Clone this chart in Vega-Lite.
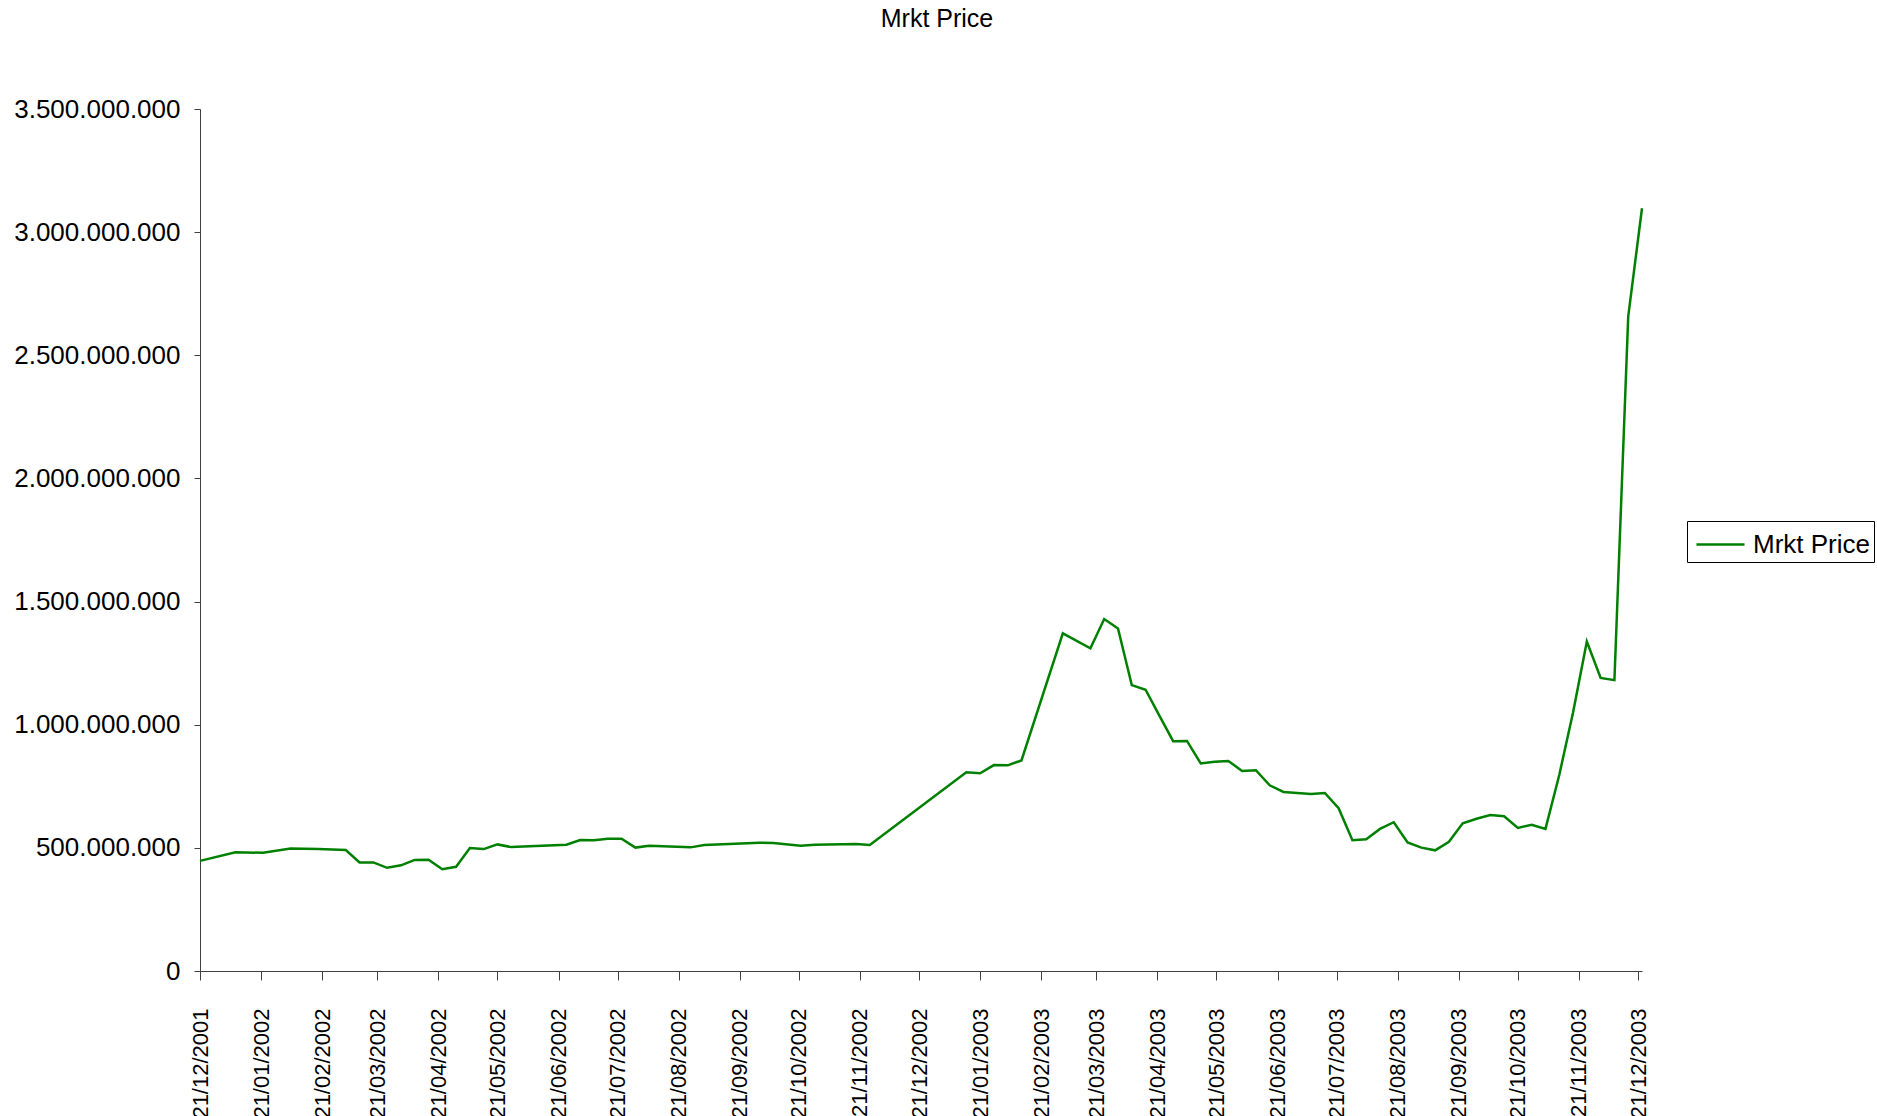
{
  "$schema": "https://vega.github.io/schema/vega-lite/v6.json",
  "width": 1442,
  "height": 862,
  "autosize": {"type": "none"},
  "padding": {"left": 200, "top": 109, "right": 235, "bottom": 145},
  "background": "white",
  "title": {"text": "Mrkt Price", "font": "Liberation Sans", "fontSize": 25, "fontWeight": "normal", "color": "black", "anchor": "middle", "frame": "group", "dx": 16, "offset": 64},
  "config": {
    "locale": {"number": {"decimal": ",", "thousands": ".", "grouping": [3], "currency": ["", " €"]}},
    "view": {"stroke": null},
    "axis": {"labelFont": "Liberation Sans", "labelFontSize": 26, "labelColor": "black", "domainColor": "#404040", "tickColor": "#404040", "grid": false, "title": null},
    "legend": {"labelFont": "Liberation Sans", "labelFontSize": 26, "labelColor": "black"}
  },
  "data": {"values": [
    {"date": "2001/12/21", "price": 447000000, "series": "Mrkt Price"},
    {"date": "2002/01/08", "price": 482000000, "series": "Mrkt Price"},
    {"date": "2002/01/22", "price": 480000000, "series": "Mrkt Price"},
    {"date": "2002/02/05", "price": 497000000, "series": "Mrkt Price"},
    {"date": "2002/02/19", "price": 495000000, "series": "Mrkt Price"},
    {"date": "2002/03/05", "price": 491000000, "series": "Mrkt Price"},
    {"date": "2002/03/12", "price": 441000000, "series": "Mrkt Price"},
    {"date": "2002/03/19", "price": 441000000, "series": "Mrkt Price"},
    {"date": "2002/03/26", "price": 419000000, "series": "Mrkt Price"},
    {"date": "2002/04/02", "price": 429000000, "series": "Mrkt Price"},
    {"date": "2002/04/09", "price": 451000000, "series": "Mrkt Price"},
    {"date": "2002/04/16", "price": 452000000, "series": "Mrkt Price"},
    {"date": "2002/04/23", "price": 413000000, "series": "Mrkt Price"},
    {"date": "2002/04/30", "price": 423000000, "series": "Mrkt Price"},
    {"date": "2002/05/07", "price": 499000000, "series": "Mrkt Price"},
    {"date": "2002/05/14", "price": 495000000, "series": "Mrkt Price"},
    {"date": "2002/05/21", "price": 514000000, "series": "Mrkt Price"},
    {"date": "2002/05/28", "price": 503000000, "series": "Mrkt Price"},
    {"date": "2002/06/25", "price": 513000000, "series": "Mrkt Price"},
    {"date": "2002/07/02", "price": 532000000, "series": "Mrkt Price"},
    {"date": "2002/07/09", "price": 531000000, "series": "Mrkt Price"},
    {"date": "2002/07/16", "price": 537000000, "series": "Mrkt Price"},
    {"date": "2002/07/23", "price": 537000000, "series": "Mrkt Price"},
    {"date": "2002/07/30", "price": 501000000, "series": "Mrkt Price"},
    {"date": "2002/08/06", "price": 509000000, "series": "Mrkt Price"},
    {"date": "2002/08/27", "price": 502000000, "series": "Mrkt Price"},
    {"date": "2002/09/03", "price": 512000000, "series": "Mrkt Price"},
    {"date": "2002/10/01", "price": 521000000, "series": "Mrkt Price"},
    {"date": "2002/10/08", "price": 520000000, "series": "Mrkt Price"},
    {"date": "2002/10/22", "price": 509000000, "series": "Mrkt Price"},
    {"date": "2002/10/29", "price": 513000000, "series": "Mrkt Price"},
    {"date": "2002/11/19", "price": 516000000, "series": "Mrkt Price"},
    {"date": "2002/11/26", "price": 512000000, "series": "Mrkt Price"},
    {"date": "2003/01/14", "price": 807000000, "series": "Mrkt Price"},
    {"date": "2003/01/21", "price": 803000000, "series": "Mrkt Price"},
    {"date": "2003/01/28", "price": 836000000, "series": "Mrkt Price"},
    {"date": "2003/02/04", "price": 835000000, "series": "Mrkt Price"},
    {"date": "2003/02/11", "price": 855000000, "series": "Mrkt Price"},
    {"date": "2003/03/04", "price": 1371000000, "series": "Mrkt Price"},
    {"date": "2003/03/18", "price": 1310000000, "series": "Mrkt Price"},
    {"date": "2003/03/25", "price": 1429000000, "series": "Mrkt Price"},
    {"date": "2003/04/01", "price": 1391000000, "series": "Mrkt Price"},
    {"date": "2003/04/08", "price": 1161000000, "series": "Mrkt Price"},
    {"date": "2003/04/15", "price": 1142000000, "series": "Mrkt Price"},
    {"date": "2003/04/22", "price": 1037000000, "series": "Mrkt Price"},
    {"date": "2003/04/29", "price": 933000000, "series": "Mrkt Price"},
    {"date": "2003/05/06", "price": 934000000, "series": "Mrkt Price"},
    {"date": "2003/05/13", "price": 843000000, "series": "Mrkt Price"},
    {"date": "2003/05/20", "price": 850000000, "series": "Mrkt Price"},
    {"date": "2003/05/27", "price": 853000000, "series": "Mrkt Price"},
    {"date": "2003/06/03", "price": 812000000, "series": "Mrkt Price"},
    {"date": "2003/06/10", "price": 815000000, "series": "Mrkt Price"},
    {"date": "2003/06/17", "price": 754000000, "series": "Mrkt Price"},
    {"date": "2003/06/24", "price": 727000000, "series": "Mrkt Price"},
    {"date": "2003/07/08", "price": 719000000, "series": "Mrkt Price"},
    {"date": "2003/07/15", "price": 723000000, "series": "Mrkt Price"},
    {"date": "2003/07/22", "price": 661000000, "series": "Mrkt Price"},
    {"date": "2003/07/29", "price": 531000000, "series": "Mrkt Price"},
    {"date": "2003/08/05", "price": 535000000, "series": "Mrkt Price"},
    {"date": "2003/08/12", "price": 577000000, "series": "Mrkt Price"},
    {"date": "2003/08/19", "price": 604000000, "series": "Mrkt Price"},
    {"date": "2003/08/26", "price": 522000000, "series": "Mrkt Price"},
    {"date": "2003/09/02", "price": 501000000, "series": "Mrkt Price"},
    {"date": "2003/09/09", "price": 490000000, "series": "Mrkt Price"},
    {"date": "2003/09/16", "price": 525000000, "series": "Mrkt Price"},
    {"date": "2003/09/23", "price": 600000000, "series": "Mrkt Price"},
    {"date": "2003/09/30", "price": 618000000, "series": "Mrkt Price"},
    {"date": "2003/10/07", "price": 633000000, "series": "Mrkt Price"},
    {"date": "2003/10/14", "price": 628000000, "series": "Mrkt Price"},
    {"date": "2003/10/21", "price": 581000000, "series": "Mrkt Price"},
    {"date": "2003/10/28", "price": 594000000, "series": "Mrkt Price"},
    {"date": "2003/11/04", "price": 577000000, "series": "Mrkt Price"},
    {"date": "2003/11/11", "price": 796000000, "series": "Mrkt Price"},
    {"date": "2003/11/18", "price": 1050000000, "series": "Mrkt Price"},
    {"date": "2003/11/25", "price": 1338000000, "series": "Mrkt Price"},
    {"date": "2003/12/02", "price": 1190000000, "series": "Mrkt Price"},
    {"date": "2003/12/09", "price": 1181000000, "series": "Mrkt Price"},
    {"date": "2003/12/16", "price": 2657000000, "series": "Mrkt Price"},
    {"date": "2003/12/23", "price": 3097000000, "series": "Mrkt Price"}
  ]},
  "mark": {"type": "line", "strokeWidth": 2.5},
  "encoding": {
    "x": {
      "field": "date", "type": "temporal",
      "scale": {"domain": [{"year": 2001, "month": 12, "date": 21}, {"year": 2003, "month": 12, "date": 23}], "nice": false},
      "axis": {
        "values": [
          {"year": 2001, "month": 12, "date": 21},
          {"year": 2002, "month": 1, "date": 21}, {"year": 2002, "month": 2, "date": 21}, {"year": 2002, "month": 3, "date": 21},
          {"year": 2002, "month": 4, "date": 21}, {"year": 2002, "month": 5, "date": 21}, {"year": 2002, "month": 6, "date": 21},
          {"year": 2002, "month": 7, "date": 21}, {"year": 2002, "month": 8, "date": 21}, {"year": 2002, "month": 9, "date": 21},
          {"year": 2002, "month": 10, "date": 21}, {"year": 2002, "month": 11, "date": 21}, {"year": 2002, "month": 12, "date": 21},
          {"year": 2003, "month": 1, "date": 21}, {"year": 2003, "month": 2, "date": 21}, {"year": 2003, "month": 3, "date": 21},
          {"year": 2003, "month": 4, "date": 21}, {"year": 2003, "month": 5, "date": 21}, {"year": 2003, "month": 6, "date": 21},
          {"year": 2003, "month": 7, "date": 21}, {"year": 2003, "month": 8, "date": 21}, {"year": 2003, "month": 9, "date": 21},
          {"year": 2003, "month": 10, "date": 21}, {"year": 2003, "month": 11, "date": 21}, {"year": 2003, "month": 12, "date": 21}
        ],
        "format": "%d/%m/%Y",
        "labelAngle": -90,
        "labelFontSize": 22,
        "tickSize": 9,
        "labelPadding": 28,
        "labelOverlap": false,
        "labelFlush": false
      }
    },
    "y": {
      "field": "price", "type": "quantitative",
      "scale": {"domain": [0, 3500000000], "nice": false},
      "axis": {
        "values": [0, 500000000, 1000000000, 1500000000, 2000000000, 2500000000, 3000000000, 3500000000],
        "format": ",d",
        "tickSize": 6,
        "labelPadding": 14
      }
    },
    "color": {
      "field": "series", "type": "nominal",
      "scale": {"range": ["#008000"]},
      "legend": {
        "title": null,
        "orient": "none",
        "legendX": 1487,
        "legendY": 412,
        "symbolType": "M-0.78,0H1.89",
        "symbolSize": 1296,
        "symbolStrokeWidth": 2.5,
        "strokeColor": "black",
        "fillColor": "white",
        "padding": 4,
        "labelOffset": 23
      }
    }
  }
}
